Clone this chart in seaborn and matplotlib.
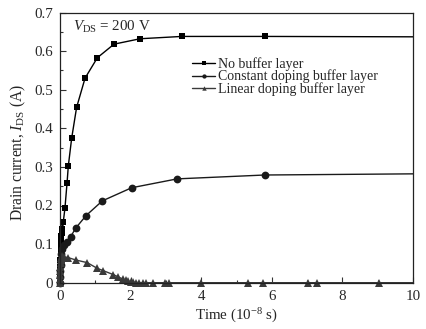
import numpy as np
import pandas as pd
import matplotlib
matplotlib.use("Agg")
import matplotlib.pyplot as plt
import seaborn as sns

# ---- data (time in 1e-8 s, current in A) ----
t_nobuf = [0.0, 0.003, 0.006, 0.01, 0.015, 0.02, 0.03, 0.04, 0.05, 0.065, 0.094, 0.14, 0.2, 0.235,
           0.33, 0.47, 0.71, 1.06, 1.53, 2.27, 3.45, 5.81, 10.0]
i_nobuf = [0.0, 0.02, 0.04, 0.06, 0.08, 0.095, 0.11, 0.12, 0.13, 0.14, 0.158, 0.193, 0.259, 0.302,
           0.374, 0.454, 0.53, 0.583, 0.618, 0.632, 0.638, 0.638, 0.637]

t_const = [0.0, 0.004, 0.008, 0.015, 0.025, 0.04, 0.06, 0.1, 0.19, 0.3, 0.45, 0.74, 1.2, 2.03,
           3.32, 5.8, 10.0]
i_const = [0.0, 0.015, 0.03, 0.045, 0.06, 0.075, 0.088, 0.098, 0.106, 0.119, 0.142, 0.174, 0.212, 0.246,
           0.269, 0.279, 0.282]

t_linear = [0.0, 0.002, 0.004, 0.007, 0.01, 0.015, 0.02, 0.03, 0.05, 0.1, 0.235, 0.44, 0.77, 1.06, 1.23,
            1.51, 1.65, 1.79, 1.86, 1.93, 2.0, 2.08, 2.16, 2.25, 2.35, 2.45, 2.64, 2.98, 3.1,
            4.0, 5.33, 5.74, 7.02, 7.27, 9.04, 10.0]
i_linear = [0.0, 0.01, 0.02, 0.03, 0.04, 0.05, 0.058, 0.064, 0.068, 0.067, 0.065, 0.059, 0.052, 0.037, 0.031,
            0.021, 0.015, 0.009, 0.006, 0.004, 0.002, 0.001, 0.0005, 0.0, 0.0, 0.0, 0.0, 0.0, 0.0,
            0.0, 0.0, 0.0, 0.0, 0.0, 0.0, 0.0]

labels = ["No buffer layer", "Constant doping buffer layer", "Linear doping buffer layer"]
x_ticks = [0, 2, 4, 6, 8, 10]
y_ticks = [0, 0.1, 0.2, 0.3, 0.4, 0.5, 0.6, 0.7]
y_ticklabels = ["0", "0.1", "0.2", "0.3", "0.4", "0.5", "0.6", "0.7"]

sns.set_style("ticks")
plt.rcParams["font.family"] = ["Liberation Serif", "DejaVu Serif"]
plt.rcParams["mathtext.fontset"] = "custom"
plt.rcParams["mathtext.rm"] = "Liberation Serif"
plt.rcParams["mathtext.it"] = "Liberation Serif:italic"
plt.rcParams["xtick.direction"] = "in"
plt.rcParams["ytick.direction"] = "in"

FS = 10.8

fig = plt.figure(figsize=(4.26, 3.29), dpi=100)
ax = fig.add_axes([60 / 426, 1 - 282.7 / 329, 353 / 426, 270.2 / 329])

series = [
    (t_nobuf, i_nobuf, "s", "#000000", 4.8),
    (t_const, i_const, "o", "#1a1a1a", 5.6),
    (t_linear, i_linear, "^", "#3a3a3a", 5.8),
]
for (tx, iy, mk, col, ms), lab in zip(series, labels):
    df = pd.DataFrame({"t": tx, "i": iy})
    sns.lineplot(data=df, x="t", y="i", ax=ax, sort=False, estimator=None,
                 color=col, lw=1.0, marker=mk, markersize=ms, markeredgewidth=0,
                 markevery=list(range(len(tx) - 1)), label=lab, clip_on=False)

ax.set_xlim(0, 10)
ax.set_ylim(0, 0.7)
ax.set_xticks(x_ticks)
ax.set_xticklabels([str(v) for v in x_ticks])
ax.set_yticks(y_ticks)
ax.set_yticklabels(y_ticklabels)
ax.set_xticks(np.arange(1, 10, 2), minor=True)
ax.set_yticks(np.arange(0.05, 0.7, 0.1), minor=True)
ax.tick_params(which="major", length=4, width=0.8, labelsize=FS, pad=5,
               top=False, right=False, color="#333333")
ax.tick_params(which="minor", length=2.5, width=0.8, top=False, right=False, color="#333333")
for s in ax.spines.values():
    s.set_linewidth(0.9)
    s.set_color("#222222")

ax.set_xlabel(r"Time (10$^{-8}$ s)", fontsize=FS, labelpad=3)
ax.set_ylabel(r"Drain current, $I_{\rm DS}$ (A)", fontsize=11.2)
ax.yaxis.set_label_coords(-0.092, 0.482)
ax.text(0.036, 0.975, r"$V_{\rm DS}$ = 200 V", transform=ax.transAxes,
        fontsize=FS, va="top", ha="left")

leg = ax.legend(loc="upper left", bbox_to_anchor=(0.355, 0.86), frameon=False,
                fontsize=10, labelspacing=-0.1, handlelength=1.65, handletextpad=0.2,
                borderpad=0, markerscale=0.55)

fig.savefig("out.png", dpi=100)
